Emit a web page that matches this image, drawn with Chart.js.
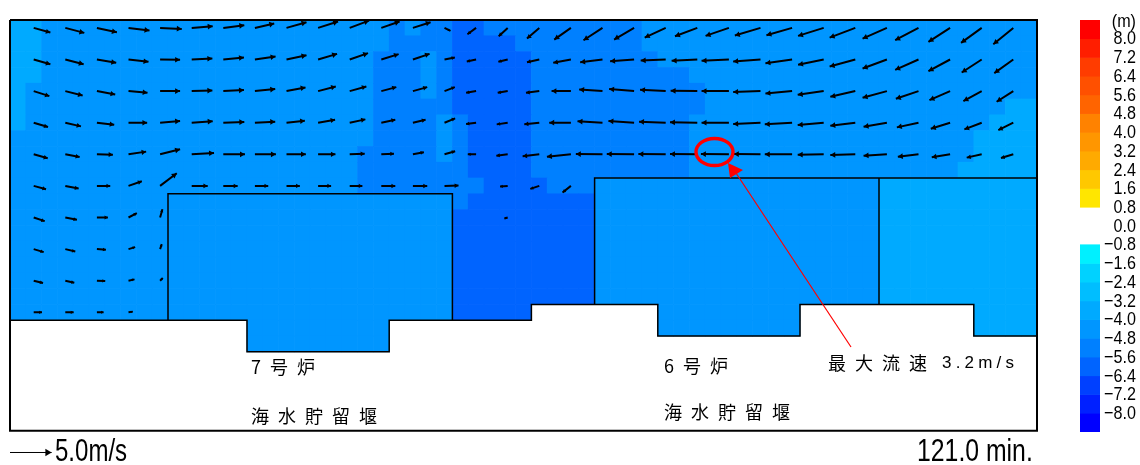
<!DOCTYPE html>
<html>
<head>
<meta charset="utf-8">
<style>
    html, body { margin: 0; padding: 0; background: #fff; }
    canvas { position: absolute; top: 0; }
</style>
<script src="https://cdn.jsdelivr.net/npm/chart.js@4/dist/chart.umd.min.js"></script>
</head>
<body>
<canvas id="mapa" width="1140" height="465" style="left:0"></canvas>
<canvas id="barra" width="80" height="465" style="left:1060px"></canvas>
<script>
// water level class of each grid cell, one string per row, run-length coded (a = -2.4~-3.2 ... d = -4.8~-5.6)
const depthRows = [
    'a2 b22 c1 b1 c2 d2 c10 b25',
    'a2 b22 c4 d4 c8 b25',
    'a2 b21 c3 b1 c1 d5 c8 b24',
    'a2 b21 c3 b1 c1 d5 c10 b22',
    'a1 b22 c3 b1 c1 d5 c11 b21',
    'a1 b22 c5 d5 c11 b19 a2',
    'a1 b22 c4 b1 c1 d4 c10 b19 a3',
    'b23 c4 b1 c1 d4 c10 b18 a4',
    'b22 c5 b1 c1 d4 c10 b18 a4',
    'b22 c7 d4 c10 b17 a5',
    'b22 c8 d4 c3 b18 a10',
    'b28 c1 d8 b18 a10',
    'b28 d9 b18 a10',
    'b28 d9 b18 a10',
    'b28 d9 b18 a10',
    'b28 d9 b18 a10',
    'b28 d9 b18 a10',
    'b28 d9 b18 a10',
    'b28 d5 .8 b9 .11 a4',
    '.15 b9 .17 b9 .11 a4',
    '.15 b9 .41',
];
const depthColors = { a: '#00aaff', b: '#0096ff', c: '#0080ff', d: '#0064ff' };

// flow vectors in m/s, one list per row of nodes, null = no arrow
const arrowU = [
    [2.00, 2.28, 2.40, 2.52, 2.60, 2.52, 2.52, 2.32, 2.40, 2.40, 2.32, 2.20, 2.12, 0.72, -1.04, -1.08, -1.48, -2.00, -2.28, -2.40, -2.52, -2.68, -2.80, -3.08, -3.08, -3.08, -3.08, -2.92, -2.80, -2.60, -2.48, -2.40],
    [2.00, 2.20, 2.32, 2.40, 2.40, 2.48, 2.48, 2.48, 2.40, 2.28, 2.20, 2.08, 2.00, 1.24, -1.12, -1.12, -1.48, -2.12, -2.68, -2.88, -3.00, -3.08, -3.28, -3.28, -3.20, -3.08, -3.08, -2.92, -2.80, -2.60, -2.40, -2.28],
    [1.88, 2.08, 2.20, 2.28, 2.40, 2.48, 2.48, 2.44, 2.28, 2.12, 2.00, 1.80, 1.72, 1.24, -1.20, -1.20, -1.60, -2.32, -2.80, -3.00, -3.08, -3.20, -3.28, -3.28, -3.20, -3.12, -3.00, -2.92, -2.72, -2.48, -2.20, -2.00],
    [1.72, 1.88, 2.08, 2.24, 2.40, 2.52, 2.52, 2.44, 2.20, 2.04, 1.88, 1.68, 1.52, 1.28, -1.20, -1.32, -1.80, -2.60, -3.00, -3.08, -3.20, -3.28, -3.28, -3.28, -3.28, -3.12, -3.00, -2.80, -2.60, -2.32, -2.08, -1.80],
    [1.68, 1.72, 1.92, 2.12, 2.40, 2.68, 2.60, 2.52, 2.32, 2.08, 1.80, 1.52, 1.32, 1.28, -1.00, -1.36, -2.00, -2.88, -3.20, -3.28, -3.28, -3.28, -3.36, -3.20, -3.28, -3.12, -3.00, -2.80, -2.48, -2.20, -1.80, -1.48],
    [1.48, 1.60, 1.60, 1.60, 2.00, 1.92, 1.72, 1.60, 1.60, 1.56, 1.52, 1.68, 1.72, 1.68, null, -0.92, -1.08, -1.00, null, null, null, null, null, null, null, null, null, null, null, null, null, null],
    [1.32, 1.40, 1.32, 1.00, 0.28, null, null, null, null, null, null, null, null, null, null, -0.40, null, null, null, null, null, null, null, null, null, null, null, null, null, null, null, null],
    [1.20, 1.20, 1.08, 0.80, 0.20, null, null, null, null, null, null, null, null, null, null, null, null, null, null, null, null, null, null, null, null, null, null, null, null, null, null, null],
    [1.12, 1.08, 1.00, 0.72, 0.32, null, null, null, null, null, null, null, null, null, null, null, null, null, null, null, null, null, null, null, null, null, null, null, null, null, null, null],
    [1.00, 1.00, 0.80, 0.52, null, null, null, null, null, null, null, null, null, null, null, null, null, null, null, null, null, null, null, null, null, null, null, null, null, null, null, null],
];
const arrowV = [
    [-0.56, -0.60, -0.52, -0.32, -0.12, 0.20, 0.32, 0.52, 0.68, 0.76, 0.88, 0.76, 0.68, -0.36, -0.76, -1.00, -1.28, -1.40, -1.48, -1.40, -1.16, -1.00, -0.96, -0.92, -0.88, -0.96, -1.16, -1.28, -1.48, -1.68, -1.80, -1.96],
    [-0.56, -0.56, -0.40, -0.28, -0.04, 0.12, 0.24, 0.36, 0.52, 0.68, 0.76, 0.64, 0.68, 0.24, -0.24, -0.28, -0.32, -0.40, -0.32, -0.20, -0.12, -0.16, -0.16, -0.24, -0.44, -0.64, -0.84, -1.08, -1.24, -1.40, -1.56, -1.64],
    [-0.60, -0.52, -0.40, -0.20, 0.00, 0.08, 0.12, 0.24, 0.44, 0.56, 0.56, 0.48, 0.48, 0.48, -0.20, -0.20, -0.20, 0.00, 0.20, 0.24, 0.16, 0.04, 0.00, -0.12, -0.28, -0.44, -0.68, -0.80, -0.92, -1.08, -1.20, -1.28],
    [-0.52, -0.44, -0.24, 0.00, 0.20, 0.16, 0.08, 0.12, 0.24, 0.36, 0.40, 0.36, 0.36, 0.52, -0.16, -0.20, -0.20, 0.00, 0.16, 0.20, 0.12, 0.04, 0.00, -0.16, -0.20, -0.28, -0.36, -0.48, -0.56, -0.72, -0.80, -0.88],
    [-0.48, -0.32, -0.04, 0.32, 0.60, 0.16, 0.00, 0.00, 0.00, 0.00, 0.08, 0.08, 0.24, 0.36, 0.00, -0.16, -0.24, -0.28, 0.04, 0.04, 0.04, 0.04, 0.04, 0.04, 0.00, -0.04, -0.08, -0.16, -0.28, -0.36, -0.40, -0.44],
    [-0.40, -0.32, 0.00, 0.56, 1.52, 0.00, 0.00, 0.00, 0.00, 0.00, 0.00, 0.00, 0.00, 0.04, null, -0.08, -0.36, -0.80, null, null, null, null, null, null, null, null, null, null, null, null, null, null],
    [-0.44, -0.28, 0.00, 0.52, 1.00, null, null, null, null, null, null, null, null, null, null, -0.12, null, null, null, null, null, null, null, null, null, null, null, null, null, null, null, null],
    [-0.36, -0.28, -0.08, 0.24, 0.60, null, null, null, null, null, null, null, null, null, null, null, null, null, null, null, null, null, null, null, null, null, null, null, null, null, null, null],
    [-0.28, -0.24, -0.04, 0.16, 0.32, null, null, null, null, null, null, null, null, null, null, null, null, null, null, null, null, null, null, null, null, null, null, null, null, null, null, null],
    [0.00, 0.00, 0.00, 0.08, null, null, null, null, null, null, null, null, null, null, null, null, null, null, null, null, null, null, null, null, null, null, null, null, null, null, null, null],
];
const legendSpeed = 5.0;

// outlines of the intake structures, in grid cells
const frameLine = [[0, 0], [65, 0], [65, 26], [0, 26], [0, 0]];
const shoreLine = [[0, 19], [15, 19], [15, 21], [24, 21], [24, 19], [33, 19], [33, 18], [41, 18], [41, 20], [50, 20], [50, 18], [61, 18], [61, 20], [65, 20]];
const unit7Line = [[10, 19], [10, 11], [28, 11], [28, 19]];
const unit6Line = [[37, 18], [37, 10], [65, 10]];
const unit6Side = [[55, 10], [55, 18]];

// colour scale
const scaleTicks = [8.8, 8.0, 7.2, 6.4, 5.6, 4.8, 4.0, 3.2, 2.4, 1.6, 0.8, 0.0, -0.8, -1.6, -2.4, -3.2, -4.0, -4.8, -5.6, -6.4, -7.2, -8.0];
const scaleBands = [[8.0, 8.8], [7.2, 8.0], [6.4, 7.2], [5.6, 6.4], [4.8, 5.6], [4.0, 4.8], [3.2, 4.0], [2.4, 3.2], [1.6, 2.4], [0.8, 1.6],
    [-1.6, -0.8], [-2.4, -1.6], [-3.2, -2.4], [-4.0, -3.2], [-4.8, -4.0], [-5.6, -4.8], [-6.4, -5.6], [-7.2, -6.4], [-8.0, -7.2], [-8.8, -8.0]];
const scaleColors = ['#ff0000', '#ff1e00', '#ff3c00', '#ff5000', '#ff6400', '#ff8200', '#ff9600', '#ffaa00', '#ffc800', '#ffe600',
    '#00f0ff', '#00d2ff', '#00beff', '#00aaff', '#0096ff', '#0080ff', '#0064ff', '#0040ff', '#0020ff', '#0000ff'];

const SANS = '"Liberation Sans", sans-serif';
const CJK = '"Noto Sans CJK JP", sans-serif';
const PX_PER_CELL = 15.8;
const CELLS_PER_MS = 8.33 / PX_PER_CELL;

const cells = [];
depthRows.forEach((runs, row) => {
    let col = 0;
    runs.split(' ').forEach(run => {
        const level = run[0];
        const count = Number(run.slice(1));
        for (let i = 0; i < count; i++, col++) {
            if (level !== '.') cells.push({ x: col + 0.5, y: [row, row + 1], level });
        }
    });
});

const shafts = [];
const heads = [];
function addArrow(list, headList, x, y, u, v, maxR) {
    const dx = u * CELLS_PER_MS;
    const dy = -v * CELLS_PER_MS;
    list.push({ x, y }, { x: x + dx, y: y + dy }, { x: NaN, y: NaN });
    const len = Math.hypot(dx, dy) * PX_PER_CELL;
    const r = Math.min(maxR, 0.9 + len * 0.12);
    const back = r / len;
    headList.push({ x: x + dx * (1 - back), y: y + dy * (1 - back), r, rot: Math.atan2(dx, -dy) * 180 / Math.PI });
}
arrowU.forEach((rowU, j) => {
    rowU.forEach((u, i) => {
        if (u === null) return;
        addArrow(shafts, heads, 1.5 + 2 * i, 0.5 + 2 * j, u, arrowV[j][i], 3.3);
    });
});

const legendShaft = [];
const legendHead = [];
addArrow(legendShaft, legendHead, 0, 27.373, legendSpeed, 0, 4.2);

const toPoints = line => line.map(p => ({ x: p[0], y: p[1] }));
const outline = (line, width, order) => ({
    type: 'line',
    data: toPoints(line),
    borderColor: '#000',
    borderWidth: width,
    pointRadius: 0,
    clip: false,
    order,
});

const textos = [
    { t: '7号炉', x: 251, y: 367, f: `18px ${CJK}`, ls: '9px' },
    { t: '海水貯留堰', x: 251, y: 416, f: `18px ${CJK}`, ls: '9px' },
    { t: '6号炉', x: 664, y: 366, f: `18px ${CJK}`, ls: '9px' },
    { t: '海水貯留堰', x: 664, y: 412, f: `18px ${CJK}`, ls: '9px' },
    { t: '最大流速', x: 828, y: 363, f: `18px ${CJK}`, ls: '9px' },
    { t: '3.2m/s', x: 942, y: 363, f: `17px ${SANS}`, ls: '4.2px' },
    { t: '5.0m/s', x: 55, y: 452, f: `31px ${SANS}`, sx: 0.775 },
    { t: '121.0 min.', x: 917, y: 452, f: `31px ${SANS}`, sx: 0.8 },
];

const anotaciones = {
    id: 'anotaciones',
    afterDatasetsDraw(chart) {
        const ctx = chart.ctx;
        ctx.save();
        // red marker on the fastest arrow
        ctx.strokeStyle = '#ff0000';
        ctx.lineWidth = 3.4;
        ctx.beginPath();
        ctx.ellipse(714.5, 152, 18.5, 13.5, 0, 0, Math.PI * 2);
        ctx.stroke();
        ctx.lineWidth = 1.2;
        ctx.beginPath();
        ctx.moveTo(736, 173);
        ctx.lineTo(851, 347);
        ctx.stroke();
        ctx.fillStyle = '#ff0000';
        ctx.beginPath();
        ctx.moveTo(728, 163);
        ctx.lineTo(743, 170);
        ctx.lineTo(730, 178);
        ctx.closePath();
        ctx.fill();

        ctx.fillStyle = '#000';
        ctx.textBaseline = 'middle';
        ctx.textAlign = 'left';
        textos.forEach(item => {
            ctx.save();
            ctx.font = item.f;
            ctx.letterSpacing = item.ls || '0px';
            ctx.translate(item.x, item.y);
            ctx.scale(item.sx || 1, 1);
            ctx.fillText(item.t, 0, 0);
            ctx.restore();
        });
        ctx.restore();
    },
};

new Chart(document.getElementById('mapa'), {
    type: 'bar',
    data: {
        datasets: [
            {
                type: 'bar',
                data: cells,
                backgroundColor: ctx => depthColors[ctx.raw.level],
                borderWidth: 0,
                barPercentage: 1,
                categoryPercentage: 1,
                grouped: false,
                order: 10,
            },
            outline(shoreLine, 1.5, 5),
            outline(unit7Line, 1.5, 5),
            outline(unit6Line, 1.5, 5),
            outline(unit6Side, 1.5, 5),
            outline(frameLine, 2, 4),
            {
                type: 'line',
                data: shafts,
                borderColor: '#000',
                borderWidth: 2,
                pointRadius: 0,
                spanGaps: false,
                clip: false,
                order: 2,
            },
            {
                type: 'scatter',
                data: heads,
                pointStyle: 'triangle',
                pointRadius: ctx => ctx.raw.r,
                pointRotation: ctx => ctx.raw.rot,
                backgroundColor: '#000',
                borderWidth: 0,
                clip: false,
                order: 1,
            },
            {
                type: 'line',
                data: legendShaft,
                borderColor: '#000',
                borderWidth: 1,
                pointRadius: 0,
                spanGaps: false,
                clip: false,
                order: 2,
            },
            {
                type: 'scatter',
                data: legendHead,
                pointStyle: 'triangle',
                pointRadius: ctx => ctx.raw.r,
                pointRotation: ctx => ctx.raw.rot,
                backgroundColor: '#000',
                borderWidth: 0,
                clip: false,
                order: 1,
            },
        ],
    },
    options: {
        responsive: false,
        animation: false,
        // the plot runs to the bottom of the page so the 5.0 m/s key stays on the same scale
        layout: { autoPadding: false, padding: { left: 10, top: 20, right: 1140 - 10 - 65 * PX_PER_CELL, bottom: 0 } },
        plugins: { legend: { display: false }, tooltip: { enabled: false } },
        scales: {
            x: { type: 'linear', min: 0, max: 65, offset: false, display: false },
            y: { type: 'linear', min: 0, max: 445 / PX_PER_CELL, reverse: true, display: false },
        },
    },
    plugins: [anotaciones],
});

const tickLabel = value => value > 8.5 ? '(m)' : (value < 0 ? '−' : '') + Math.abs(value).toFixed(1);

// the labels are squeezed sideways, no narrow font is installed
const etiquetasBarra = {
    id: 'etiquetasBarra',
    afterDraw(chart) {
        const ctx = chart.ctx;
        const axis = chart.scales.y;
        ctx.save();
        ctx.fillStyle = '#000';
        ctx.font = `19px ${SANS}`;
        ctx.textAlign = 'right';
        ctx.textBaseline = 'middle';
        scaleTicks.forEach(value => {
            ctx.save();
            ctx.translate(76, axis.getPixelForValue(value) + (value > 8.5 ? 1.5 : 0.5));
            ctx.scale(0.85, 1);
            ctx.fillText(tickLabel(value), 0, 0);
            ctx.restore();
        });
        ctx.restore();
    },
};

new Chart(document.getElementById('barra'), {
    type: 'bar',
    data: {
        labels: ['m'],
        datasets: scaleBands.map((band, i) => ({
            data: [band],
            backgroundColor: scaleColors[i],
            borderWidth: 0,
            barPercentage: 1,
            categoryPercentage: 1,
            grouped: false,
        })),
    },
    options: {
        responsive: false,
        animation: false,
        layout: { padding: { left: 20, right: 3, top: 20, bottom: 33 } },
        plugins: { legend: { display: false }, tooltip: { enabled: false } },
        scales: {
            x: { display: false },
            y: {
                position: 'right',
                min: -8.8,
                max: 8.8,
                grid: { display: false },
                border: { display: false },
                afterBuildTicks: axis => { axis.ticks = scaleTicks.map(value => ({ value })); },
                afterFit: axis => { axis.width = 37; },
                ticks: { display: false, autoSkip: false },
            },
        },
    },
    plugins: [etiquetasBarra],
});
</script>
</body>
</html>
